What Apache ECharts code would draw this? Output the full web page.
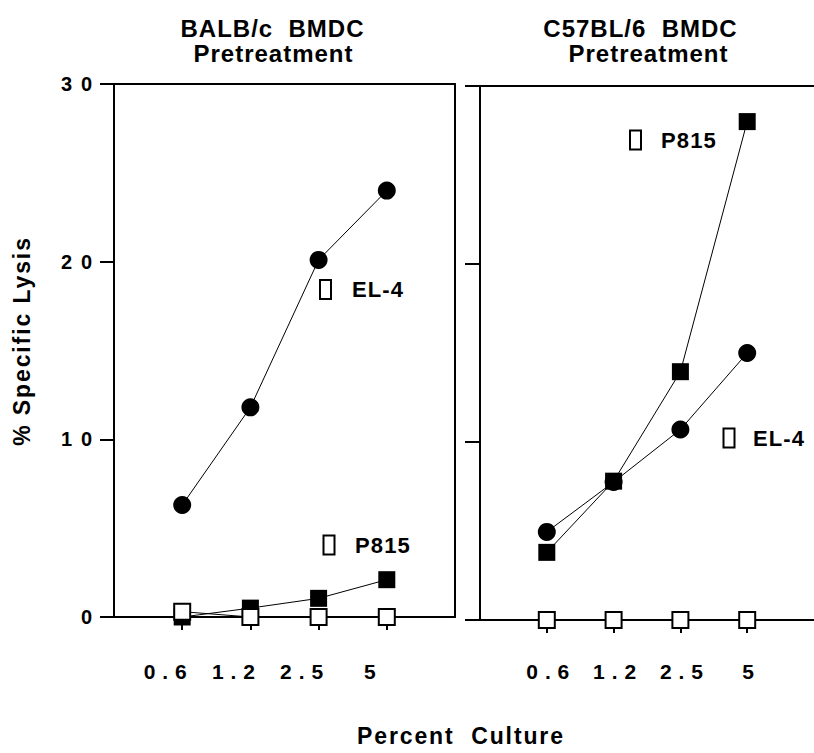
<!DOCTYPE html>
<html><head><meta charset="utf-8">
<script src="https://cdn.jsdelivr.net/npm/echarts@6/dist/echarts.min.js"></script>
<style>
html,body{margin:0;padding:0;background:#fff}
#c{width:814px;height:753px}
</style>
</head><body><div id="c"></div><script>
// ---- data ----
const xValues = [1, 2, 3, 4];
const xTickLabels = ['0.6', '1.2', '2.5', '5'];
const yTicks = [0, 10, 20, 30];
const yTickLabels = ['0', '10', '20', '30'];
const panelTitles = [['BALB/c  BMDC', 'Pretreatment'], ['C57BL/6  BMDC', 'Pretreatment']];
const leftEL4 = [6.3, 11.8, 20.1, 24.0];
const leftP815 = [0.0, 0.5, 1.05, 2.1];
const leftControl = [0.3, 0.0, 0.0, 0.0];
const rightEL4 = [4.95, 7.75, 10.7, 15.0];
const rightP815 = [3.8, 7.8, 13.95, 28.0];
const rightControl = [0.0, 0.0, 0.0, 0.0];

// ---- fonts: bold sans, tracked out like the original ----
const FONT = "'Liberation Sans', Arial, sans-serif";
const SZ = { ytick: 20, xtick: 21, annot: 22, axis: 23, title: 24 };
const TARGET = {
  ytick: ['30', 31], xtick: ['0.6', 43], annot: ['EL-4', 51],
  axis: ['Percent  Culture', 206], title: ['BALB/c  BMDC', 183]
};
const LS = {};
(function () {
  const c = document.createElement('canvas').getContext('2d');
  let css = '';
  for (const k in SZ) {
    c.font = 'bold ' + SZ[k] + 'px ' + FONT;
    const t = TARGET[k][0];
    const ls = Math.max(0, (TARGET[k][1] - c.measureText(t).width) / (t.length - 1));
    LS[k] = ls;
    css += '#c text[style*="' + SZ[k] + 'px"],#c text[font-size="' + SZ[k] + '"],#c text[font-size="' + SZ[k] + 'px"]{letter-spacing:' + ls.toFixed(2) + 'px}\n';
  }
  const st = document.createElement('style'); st.textContent = css; document.head.appendChild(st);
})();

const BLACK = '#000';
const pairs = arr => arr.map((v, i) => [xValues[i], v]);
const fmtX = v => { const i = xValues.indexOf(v); return i >= 0 ? xTickLabels[i] : ''; };
const fmtY = v => { const i = yTicks.indexOf(v); return i >= 0 ? yTickLabels[i] : ''; };
const axisLine = { show: true, onZero: false, lineStyle: { color: BLACK, width: 2 } };
const lbl = size => ({ fontSize: size, fontWeight: 'bold', color: BLACK, fontFamily: FONT });

function xAxisBottom(grid, shift, margin) {
  const s = shift + LS.xtick / 2;
  const pad = s < 0 ? [0, -2 * s, 0, 0] : [0, 0, 0, 2 * s];
  return {
    gridIndex: grid, type: 'value', min: 0, max: 5, interval: 1, position: 'bottom',
    axisLine: axisLine, splitLine: { show: false },
    axisTick: { show: true, inside: false, length: 13, lineStyle: { color: BLACK, width: 2 } },
    axisLabel: Object.assign({ formatter: fmtX, margin: margin, showMinLabel: false, showMaxLabel: false,
      padding: pad }, lbl(SZ.xtick))
  };
}
function xAxisTop(grid) {
  return { gridIndex: grid, type: 'value', min: 0, max: 5, position: 'top',
    axisLine: axisLine, axisTick: { show: false }, axisLabel: { show: false }, splitLine: { show: false } };
}
function yAxisLeft(grid, showLabels, tickLen) {
  return {
    gridIndex: grid, type: 'value', min: 0, max: 30, interval: 10, position: 'left',
    axisLine: axisLine, splitLine: { show: false },
    axisTick: { show: true, inside: false, length: tickLen, lineStyle: { color: BLACK, width: 2 } },
    axisLabel: Object.assign({ show: showLabels, formatter: fmtY, margin: 22 - LS.ytick }, lbl(SZ.ytick))
  };
}

function series(name, data, xi, yi, kind) {
  const s = {
    name: name, type: 'line', xAxisIndex: xi, yAxisIndex: yi, data: pairs(data),
    lineStyle: { color: BLACK, width: 1 }, silent: true, animation: false,
    emphasis: { disabled: true }
  };
  if (kind === 'circle') { s.symbol = 'circle'; s.symbolSize = 18; s.itemStyle = { color: BLACK }; }
  else if (kind === 'filled') { s.symbol = 'rect'; s.symbolSize = 17; s.itemStyle = { color: BLACK }; }
  else { s.symbol = 'rect'; s.symbolSize = 16; s.itemStyle = { color: '#fff', borderColor: BLACK, borderWidth: 2 }; }
  return s;
}

const ctxt = (text, x, y, role, opts) => Object.assign({
  type: 'text', x: x + LS[role] / 2, y: y, silent: true,
  style: { text: text, fill: BLACK, font: 'bold ' + SZ[role] + 'px ' + FONT, align: 'center', verticalAlign: 'middle' }
}, opts || {});
const box = (cx, cy) => ({ type: 'rect', silent: true, shape: { x: cx - 5.5, y: cy - 9.5, width: 11, height: 19 },
  style: { fill: '#fff', stroke: BLACK, lineWidth: 2 } });
const ltxt = (text, x, y) => ({ type: 'text', x: x, y: y, silent: true,
  style: { text: text, fill: BLACK, font: 'bold ' + SZ.annot + 'px ' + FONT, align: 'left', verticalAlign: 'middle' } });

const chart = echarts.init(document.getElementById('c'), null, { renderer: 'svg' });
chart.setOption({
  animation: false,
  backgroundColor: '#fff',
  grid: [
    { left: 114, top: 84, width: 341, height: 533 },
    { left: 480, top: 86, width: 342, height: 534 }
  ],
  xAxis: [xAxisBottom(0, -17, 44), xAxisTop(0), xAxisBottom(1, 1, 41), xAxisTop(1)],
  yAxis: [
    yAxisLeft(0, true, 14),
    { gridIndex: 0, type: 'value', min: 0, max: 30, position: 'right', axisLine: axisLine,
      axisTick: { show: false }, axisLabel: { show: false }, splitLine: { show: false } },
    yAxisLeft(1, false, 15)
  ],
  series: [
    series('EL-4', leftEL4, 0, 0, 'circle'),
    series('P815', leftP815, 0, 0, 'filled'),
    series('Control', leftControl, 0, 0, 'open'),
    series('EL-4', rightEL4, 2, 2, 'circle'),
    series('P815', rightP815, 2, 2, 'filled'),
    series('Control', rightControl, 2, 2, 'open')
  ],
  graphic: [
    ctxt(panelTitles[0][0], 272, 28, 'title'),
    ctxt(panelTitles[0][1], 273, 53, 'title'),
    ctxt(panelTitles[1][0], 640, 28, 'title'),
    ctxt(panelTitles[1][1], 648, 53, 'title'),
    { type: 'text', x: 22, y: 341, rotation: Math.PI / 2, silent: true,
      style: { text: '% Specific Lysis', fill: BLACK, font: 'bold ' + SZ.axis + 'px ' + FONT, align: 'center', verticalAlign: 'middle' } },
    ctxt('Percent  Culture', 460, 736, 'axis'),
    box(325.5, 289.5), ltxt('EL-4', 352, 289),
    box(329, 545), ltxt('P815', 355, 545),
    box(635.5, 140), ltxt('P815', 661, 140),
    box(729, 438), ltxt('EL-4', 753, 438)
  ]
});
</script></body></html>
